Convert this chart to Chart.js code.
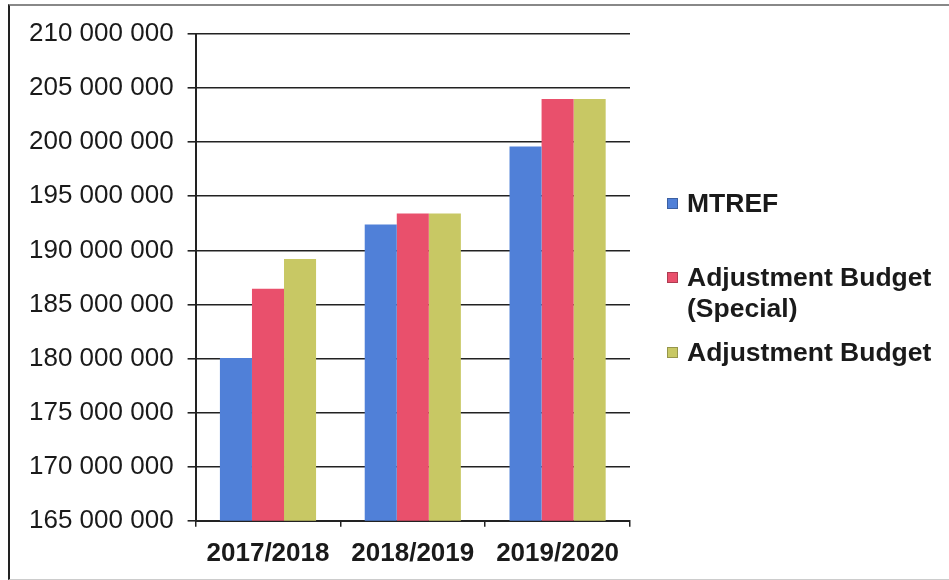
<!DOCTYPE html>
<html>
<head>
<meta charset="utf-8">
<script src="https://cdn.jsdelivr.net/npm/chart.js@4/dist/chart.umd.min.js"></script>
<style>
  html, body { margin: 0; padding: 0; background: #fff; }
  #wrap { position: relative; width: 949px; height: 580px; }
  #frame { position: absolute; left: 8px; top: 4px; width: 945px; height: 573px;
           border-left: 2px solid #222; border-top: 2px solid #888; border-bottom: 1px solid #ccc; }
  #legend { position: absolute; left: 667px; top: 0; font-family: "Liberation Sans", Arial, sans-serif;
            font-weight: bold; font-size: 26.5px; color: #1a1a1a; }
  .item { position: absolute; left: 0; white-space: nowrap; line-height: 31px; }
  .box { position: absolute; left: 0; top: 10px; width: 11px; height: 11px; border: 1px solid rgba(0,0,0,0.25); box-sizing: border-box; }
  .txt { position: absolute; left: 20px; top: 0; }
</style>
</head>
<body>
<div id="wrap">
  <div id="frame"></div>
  <canvas id="budgetChart" width="949" height="580"></canvas>
  <div id="legend"></div>
</div>
<script>
// ── Data ────────────────────────────────────────────────
const categories = ["2017/2018", "2018/2019", "2019/2020"];
const seriesNames = ["MTREF", ["Adjustment Budget", "(Special)"], "Adjustment Budget"];
const mtref = [180050000, 192400000, 199600000];
const adjSpecial = [186450000, 193400000, 204000000];
const adjBudget = [189200000, 193400000, 204000000];
const seriesColors = ["#5080d8", "#e9506c", "#c8c864"];
const yMin = 165000000, yMax = 210000000, yStep = 5000000;

// legend row tops (px)
const legendTops = [188, 262, 337];

function fmtSpaces(v) {
  return String(v).replace(/\B(?=(\d{3})+(?!\d))/g, " ");
}

/* ── Chart ──────────────────────────────────────────────*/
const seriesData = [mtref, adjSpecial, adjBudget];

new Chart(document.getElementById("budgetChart"), {
  type: "bar",
  data: {
    labels: categories,
    datasets: seriesData.map((d, i) => ({
      label: Array.isArray(seriesNames[i]) ? seriesNames[i].join(" ") : seriesNames[i],
      data: d,
      backgroundColor: seriesColors[i],
      borderWidth: 0,
      categoryPercentage: 0.664,
      barPercentage: 1
    }))
  },
  options: {
    responsive: false,
    animation: false,
    layout: { padding: { left: 15, top: 34, right: 319, bottom: 0 } },
    plugins: { legend: { display: false }, tooltip: { enabled: false } },
    scales: {
      x: {
        grid: { offset: true, drawOnChartArea: false, drawTicks: true, tickLength: 6, color: "#222", lineWidth: 1.5 },
        border: { color: "#222", width: 2 },
        ticks: { color: "#1a1a1a", padding: 11, font: { family: "'Liberation Sans', Arial", size: 26, weight: "bold" } }
      },
      y: {
        min: yMin, max: yMax,
        grid: { color: "#222", lineWidth: 1.6, tickLength: 8 },
        border: { color: "#222", width: 2 },
        ticks: {
          stepSize: yStep, color: "#1a1a1a", padding: 14,
          font: { family: "'Liberation Sans', Arial", size: 26 },
          callback: v => fmtSpaces(v)
        }
      }
    }
  }
});

/* ── HTML legend ────────────────────────────────────────*/
const legendEl = document.getElementById("legend");
seriesNames.forEach((name, i) => {
  const item = document.createElement("div");
  item.className = "item";
  item.style.top = legendTops[i] + "px";
  const lines = Array.isArray(name) ? name : [name];
  item.innerHTML = `<div class="box" style="background:${seriesColors[i]}"></div>` +
    `<div class="txt">${lines.join("<br>")}</div>`;
  legendEl.appendChild(item);
});
</script>
</body>
</html>
